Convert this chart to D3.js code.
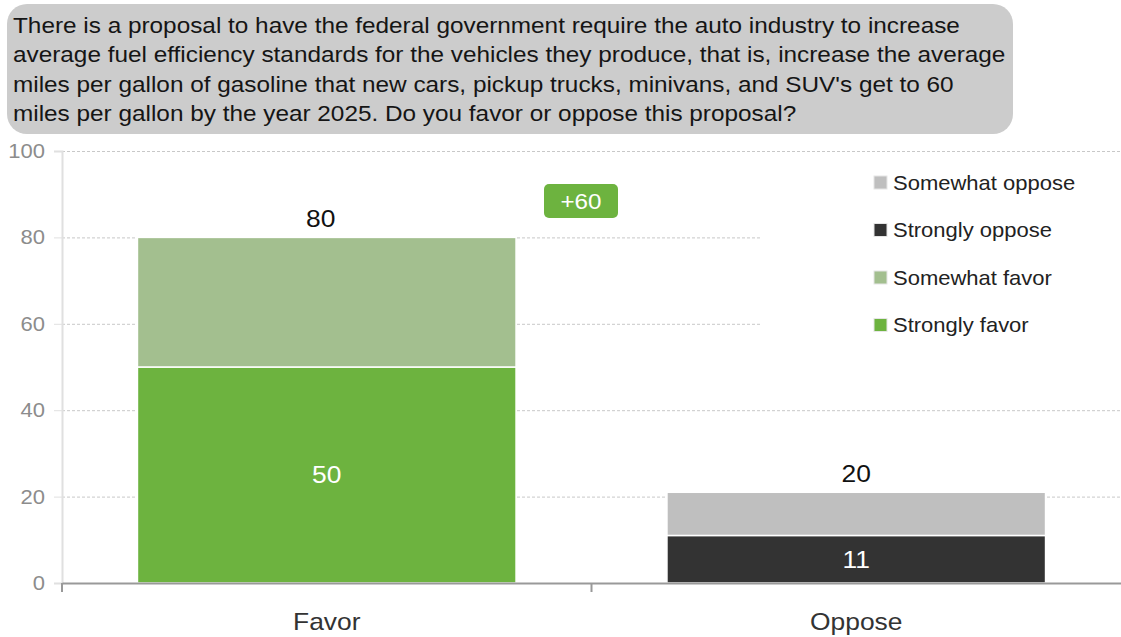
<!DOCTYPE html>
<html>
<head>
<meta charset="utf-8">
<script src="https://cdn.jsdelivr.net/npm/d3@7"></script>
<style>
  body { margin: 0; background: #fff; font-family: "Liberation Sans", Arial, sans-serif; }
  svg { display: block; }
</style>
</head>
<body>
<svg width="1121" height="637"></svg>
<script>
var titleLines = [
  "There is a proposal to have the federal government require the auto industry to increase",
  "average fuel efficiency standards for the vehicles they produce, that is, increase the average",
  "miles per gallon of gasoline that new cars, pickup trucks, minivans, and SUV's get to 60",
  "miles per gallon by the year 2025. Do you favor or oppose this proposal?"
];
var categories = ["Favor", "Oppose"];
var seriesNames = ["Strongly favor", "Somewhat favor", "Strongly oppose", "Somewhat oppose"];
var seriesColors = ["#6db33f", "#a3bf8f", "#333333", "#bfbfbf"];
var strongly = [50, 11];
var somewhat = [30, 10];
var totalLabels = ["80", "20"];
var yTicks = [0, 20, 40, 60, 80, 100];
var netLabel = "+60";

// the source font is a little wider than Liberation Sans
var SX = 1.1;
function stretch(x, y, sx) {
  return "translate(" + x + "," + y + ") scale(" + (sx || SX) + ",1)";
}

var svg = d3.select("svg"),
    margin = { top: 151, right: 0, bottom: 54, left: 62 },
    width = +svg.attr("width") - margin.left - margin.right,
    height = +svg.attr("height") - margin.top - margin.bottom;

// question box
svg.append("rect")
    .attr("x", 7).attr("y", 4)
    .attr("width", 1006).attr("height", 130)
    .attr("rx", 20).attr("ry", 20)
    .attr("fill", "#cccccc");

svg.append("g").selectAll("text")
    .data(titleLines)
  .enter().append("text")
    .attr("transform", function(d, i) { return stretch(13, 33 + i * 29.3, 1.107); })
    .attr("font-size", "22px")
    .attr("fill", "#151515")
    .text(function(d) { return d; });

var g = svg.append("g").attr("transform", "translate(" + margin.left + "," + margin.top + ")");

var x = d3.scaleBand().domain(categories).range([0, width]).paddingInner(0.285).paddingOuter(0.1425);
var xb = d3.scaleBand().domain(categories).range([0, width]);
var y = d3.scaleLinear().domain([0, 100]).range([height, 0]);

// gridlines
g.append("g").selectAll("line")
    .data(yTicks.filter(function(d) { return d > 0; }))
  .enter().append("line")
    .attr("x1", 0).attr("x2", width)
    .attr("y1", function(d) { return y(d) + 0.5; })
    .attr("y2", function(d) { return y(d) + 0.5; })
    .attr("stroke", "#c8c8c8")
    .attr("stroke-dasharray", "3,2");

// y axis
var yAxis = g.append("g")
    .call(d3.axisLeft(y).tickValues(yTicks).tickSize(8).tickPadding(9));
yAxis.select(".domain").attr("stroke", "#e0e0e0").attr("stroke-width", 2);
yAxis.selectAll(".tick line").attr("stroke", "#e0e0e0");
yAxis.selectAll("text")
    .attr("x", -17 / SX)
    .attr("transform", "scale(" + SX + ",1)")
    .attr("fill", "#8c8c8c").attr("font-size", "20px")
    .attr("font-family", "Liberation Sans, Arial, sans-serif");

// legend background covers gridlines
var legendX = 874, legendY = 176;
svg.append("rect")
    .attr("x", 762).attr("y", 164)
    .attr("width", 359).attr("height", 180)
    .attr("fill", "#fff");

// bars
var stack = [
  { vals: strongly, base: [0, 0], colors: [seriesColors[0], seriesColors[2]] },
  { vals: somewhat, base: strongly, colors: [seriesColors[1], seriesColors[3]] }
];
stack.forEach(function(s) {
  g.append("g").selectAll("rect")
      .data(categories)
    .enter().append("rect")
      .attr("x", function(d) { return x(d); })
      .attr("width", x.bandwidth())
      .attr("y", function(d, i) { return y(s.base[i] + s.vals[i]); })
      .attr("height", function(d, i) { return y(s.base[i]) - y(s.base[i] + s.vals[i]); })
      .attr("fill", function(d, i) { return s.colors[i]; })
      .attr("stroke", "#fff")
      .attr("stroke-width", 1.5);
});

// inside labels
g.append("g").selectAll("text")
    .data(categories)
  .enter().append("text")
    .attr("transform", function(d, i) { return stretch(x(d) + x.bandwidth() / 2, y(strongly[i] / 2)); })
    .attr("dy", "0.35em")
    .attr("text-anchor", "middle")
    .attr("font-size", "24px")
    .attr("fill", "#fff")
    .text(function(d, i) { return strongly[i]; });

// total labels
g.append("g").selectAll("text")
    .data(categories)
  .enter().append("text")
    .attr("transform", function(d, i) { return stretch(x(d) + x.bandwidth() / 2 - (i === 0 ? 6 : 0), y(strongly[i] + somewhat[i]) - 10); })
    .attr("text-anchor", "middle")
    .attr("font-size", "24px")
    .attr("fill", "#111")
    .text(function(d, i) { return totalLabels[i]; });

// x axis
var xAxis = g.append("g")
    .attr("transform", "translate(0," + height + ")")
    .call(d3.axisBottom(x).tickSize(0).tickPadding(30));
xAxis.select(".domain").attr("stroke", "#999").attr("stroke-width", 2);
xAxis.selectAll("text")
    .attr("transform", "scale(" + SX + ",1)")
    .attr("fill", "#333").attr("font-size", "24px")
    .attr("font-family", "Liberation Sans, Arial, sans-serif");
xAxis.selectAll(".sep")
    .data([0, xb(categories[0]) + xb.bandwidth()])
  .enter().append("line")
    .attr("class", "sep")
    .attr("x1", function(d) { return d; }).attr("x2", function(d) { return d; })
    .attr("y1", 0).attr("y2", 9)
    .attr("stroke", "#999").attr("stroke-width", 2);

// net badge
var badge = svg.append("g").attr("transform", "translate(544,184)");
badge.append("rect")
    .attr("width", 74).attr("height", 34)
    .attr("rx", 5).attr("ry", 5)
    .attr("fill", "#6db33f");
badge.append("text")
    .attr("transform", stretch(37, 17))
    .attr("dy", "0.35em")
    .attr("text-anchor", "middle")
    .attr("font-size", "22px")
    .attr("fill", "#fff")
    .text(netLabel);

// legend
var legendOrder = [3, 2, 1, 0];
var legend = svg.append("g").selectAll("g")
    .data(legendOrder)
  .enter().append("g")
    .attr("transform", function(d, i) { return "translate(" + legendX + "," + (legendY + i * 47.5) + ")"; });
legend.append("rect")
    .attr("width", 13).attr("height", 13)
    .attr("fill", function(d) { return seriesColors[d]; })
    .attr("stroke", "#e6e6e6");
legend.append("text")
    .attr("transform", stretch(19, 6.5))
    .attr("dy", "0.35em")
    .attr("font-size", "20px")
    .attr("fill", "#222")
    .text(function(d) { return seriesNames[d]; });
</script>
</body>
</html>
